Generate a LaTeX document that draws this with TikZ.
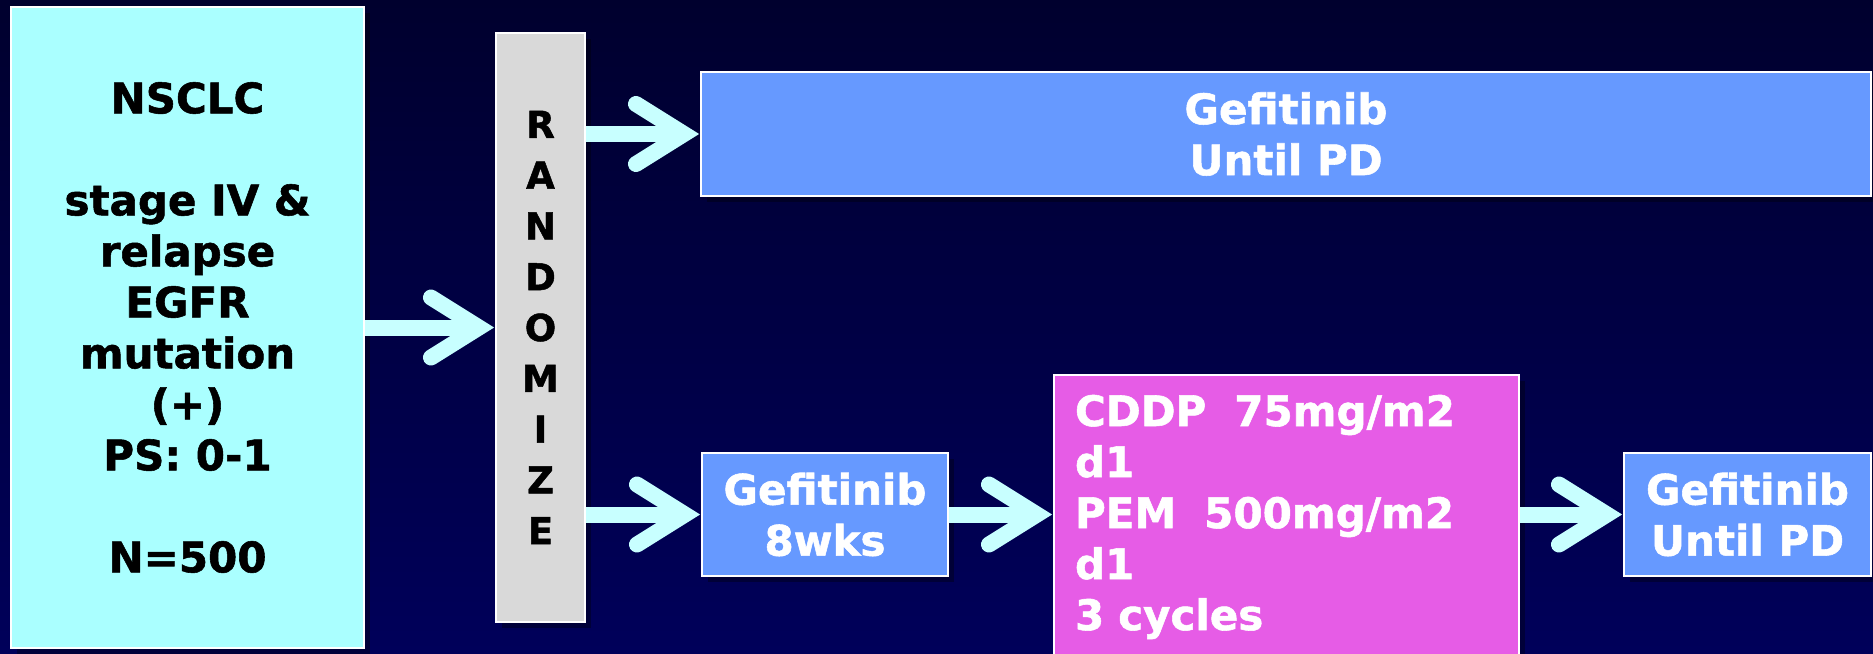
\documentclass[tikz,border=0pt]{standalone}
\usepackage{fontspec}
\setmainfont[BoldFeatures={FakeBold=1.3}]{DejaVu Sans}
\usetikzlibrary{shadows,calc}
\definecolor{bgtop}{HTML}{00002E}
\definecolor{bgbot}{HTML}{00005A}
\definecolor{cyanbox}{HTML}{AAFFFF}
\definecolor{graybox}{HTML}{D9D9D9}
\definecolor{bluebox}{HTML}{6699FF}
\definecolor{pinkbox}{HTML}{E65CE6}
\definecolor{arrowcol}{HTML}{C8FFFF}
\tikzset{
  box/.style={rectangle, draw=white, line width=2pt, inner sep=0pt, align=center,
    font=\bfseries\fontsize{42}{51}\selectfont,
    drop shadow={shadow xshift=6pt, shadow yshift=-6pt, opacity=0.35, fill=black}},
  startbox/.style={box, fill=cyanbox, text=black},
  randbox/.style={box, fill=graybox, text=black, font=\bfseries\fontsize{37}{50.8}\selectfont},
  bluebx/.style={box, fill=bluebox, text=white},
  pinkbx/.style={box, fill=pinkbox, text=white, align=left},
  arrowshaft/.style={draw=arrowcol, line width=16pt},
  arrowhd/.style={draw=arrowcol, line width=16pt, line cap=round, line join=miter},
}
\newcommand\bigarrow[2]{%
  \draw[arrowshaft] (#1) -- ($(#2)+(-16,0)$);
  \draw[arrowhd] ($(#2)+(-64,-30)$) -- ($(#2)+(-16,0)$) -- ($(#2)+(-64,30)$);
}
\begin{document}
\begin{tikzpicture}[x=1pt, y=-1pt]
  \useasboundingbox (0,0) rectangle (1873,653);
  \clip (0,0) rectangle (1873,653);
  \shade[top color=bgtop, bottom color=bgbot] (0,0) rectangle (1873,653);

  \node[startbox, minimum width=353pt, minimum height=641pt] (L) at (187.5,327.5)
    {NSCLC\\[51pt]stage IV \&\\relapse\\EGFR\\mutation\\(+)\\PS: 0-1\\[51pt]N=500};
  \node[randbox, minimum width=89pt, minimum height=589pt] (R) at (540.5,327.5)
    {R\\A\\N\\D\\O\\M\\I\\Z\\E};
  \node[bluebx, minimum width=1170pt, minimum height=124pt] (T) at (1286,134)
    {Gefitinib\\Until PD};
  \node[bluebx, minimum width=246pt, minimum height=123pt] (G) at (825,514.5)
    {Gefitinib\\8wks};
  \node[pinkbx, minimum width=465pt, minimum height=284pt, text width=423pt, inner xsep=21pt] (P) at (1286.5,517)
    {CDDP\ \ 75mg/m2\\d1\\PEM\ \ 500mg/m2\\d1\\3 cycles};
  \node[bluebx, minimum width=247pt, minimum height=123pt] (E) at (1747.5,514.5)
    {Gefitinib\\Until PD};

  \bigarrow{L.east}{R.west}
  \bigarrow{R.east |- T.west}{T.west}
  \bigarrow{R.east |- G.west}{G.west}
  \bigarrow{G.east}{P.west |- G.east}
  \bigarrow{P.east |- E.west}{E.west}
\end{tikzpicture}
\end{document}
